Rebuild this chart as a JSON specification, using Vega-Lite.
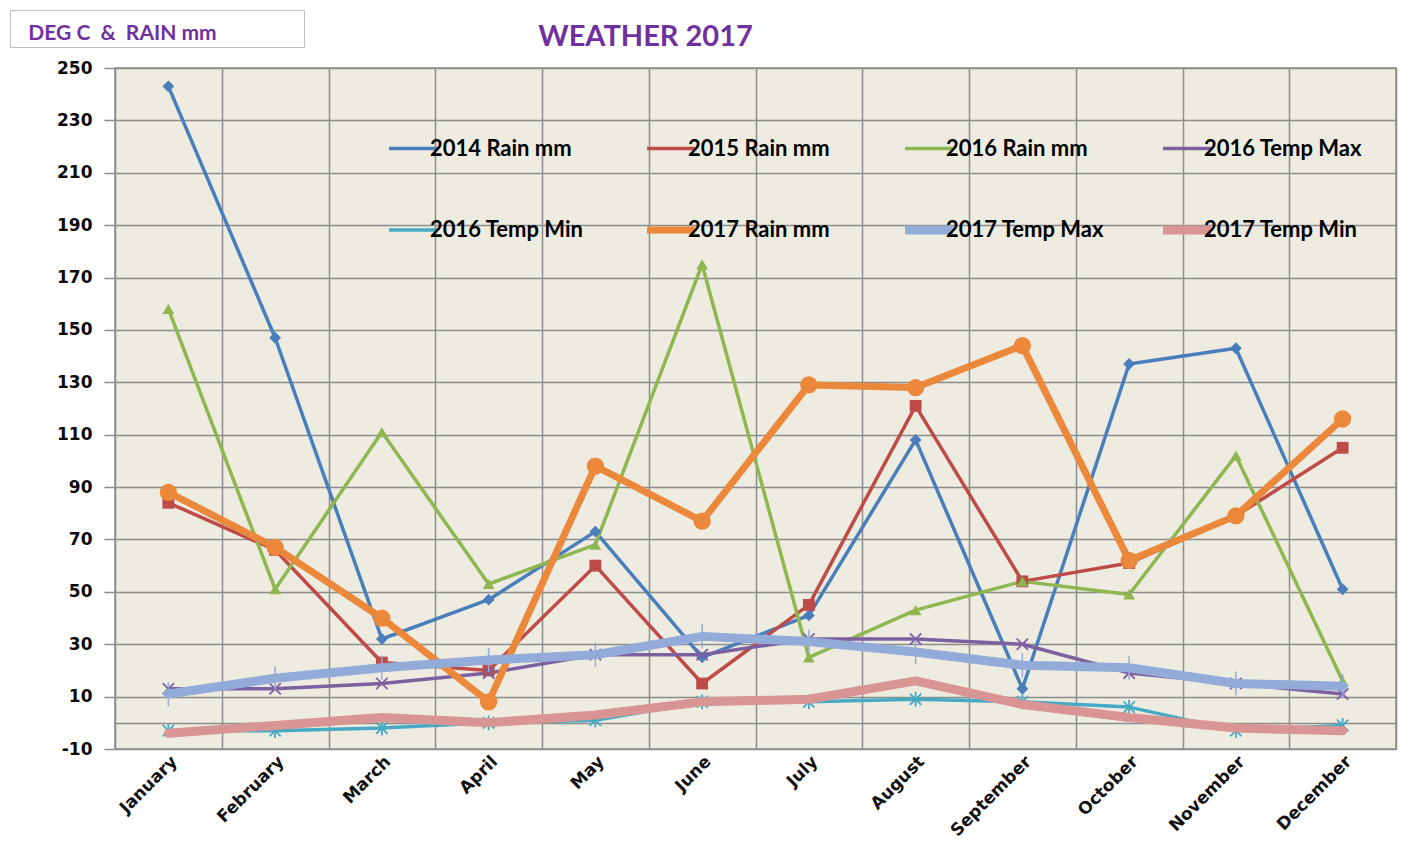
{
"$schema": "https://vega.github.io/schema/vega-lite/v6.json",
"width": 1281, "height": 681,
"autosize": {"type": "none"},
"padding": {"left": 115, "top": 68, "right": 20, "bottom": 118},
"background": "white",
"title": {"text": "WEATHER 2017", "frame": "group", "color": "#7030A0", "fontSize": 29, "font": "Lato, sans-serif", "fontWeight": "bold", "anchor": "middle", "dx": -110, "offset": 0, "dy": 42},
"data": {"values": [
{"month":"January","series":"2014 Rain mm","value":243},{"month":"February","series":"2014 Rain mm","value":147},{"month":"March","series":"2014 Rain mm","value":32},{"month":"April","series":"2014 Rain mm","value":47},{"month":"May","series":"2014 Rain mm","value":73},{"month":"June","series":"2014 Rain mm","value":25},{"month":"July","series":"2014 Rain mm","value":41},{"month":"August","series":"2014 Rain mm","value":108},{"month":"September","series":"2014 Rain mm","value":13},{"month":"October","series":"2014 Rain mm","value":137},{"month":"November","series":"2014 Rain mm","value":143},{"month":"December","series":"2014 Rain mm","value":51},
{"month":"January","series":"2015 Rain mm","value":84},{"month":"February","series":"2015 Rain mm","value":66},{"month":"March","series":"2015 Rain mm","value":23},{"month":"April","series":"2015 Rain mm","value":20},{"month":"May","series":"2015 Rain mm","value":60},{"month":"June","series":"2015 Rain mm","value":15},{"month":"July","series":"2015 Rain mm","value":45},{"month":"August","series":"2015 Rain mm","value":121},{"month":"September","series":"2015 Rain mm","value":54},{"month":"October","series":"2015 Rain mm","value":61},{"month":"November","series":"2015 Rain mm","value":79},{"month":"December","series":"2015 Rain mm","value":105},
{"month":"January","series":"2016 Rain mm","value":158},{"month":"February","series":"2016 Rain mm","value":51},{"month":"March","series":"2016 Rain mm","value":111},{"month":"April","series":"2016 Rain mm","value":53},{"month":"May","series":"2016 Rain mm","value":68},{"month":"June","series":"2016 Rain mm","value":175},{"month":"July","series":"2016 Rain mm","value":25},{"month":"August","series":"2016 Rain mm","value":43},{"month":"September","series":"2016 Rain mm","value":54},{"month":"October","series":"2016 Rain mm","value":49},{"month":"November","series":"2016 Rain mm","value":102},{"month":"December","series":"2016 Rain mm","value":16},
{"month":"January","series":"2016 Temp Max","value":13},{"month":"February","series":"2016 Temp Max","value":13},{"month":"March","series":"2016 Temp Max","value":15},{"month":"April","series":"2016 Temp Max","value":19},{"month":"May","series":"2016 Temp Max","value":26},{"month":"June","series":"2016 Temp Max","value":26},{"month":"July","series":"2016 Temp Max","value":32},{"month":"August","series":"2016 Temp Max","value":32},{"month":"September","series":"2016 Temp Max","value":30},{"month":"October","series":"2016 Temp Max","value":19},{"month":"November","series":"2016 Temp Max","value":15},{"month":"December","series":"2016 Temp Max","value":11},
{"month":"January","series":"2016 Temp Min","value":-3},{"month":"February","series":"2016 Temp Min","value":-3},{"month":"March","series":"2016 Temp Min","value":-2},{"month":"April","series":"2016 Temp Min","value":0},{"month":"May","series":"2016 Temp Min","value":1},{"month":"June","series":"2016 Temp Min","value":8},{"month":"July","series":"2016 Temp Min","value":8},{"month":"August","series":"2016 Temp Min","value":9},{"month":"September","series":"2016 Temp Min","value":8},{"month":"October","series":"2016 Temp Min","value":6},{"month":"November","series":"2016 Temp Min","value":-3},{"month":"December","series":"2016 Temp Min","value":-1},
{"month":"January","series":"2017 Rain mm","value":88},{"month":"February","series":"2017 Rain mm","value":67},{"month":"March","series":"2017 Rain mm","value":40},{"month":"April","series":"2017 Rain mm","value":8},{"month":"May","series":"2017 Rain mm","value":98},{"month":"June","series":"2017 Rain mm","value":77},{"month":"July","series":"2017 Rain mm","value":129},{"month":"August","series":"2017 Rain mm","value":128},{"month":"September","series":"2017 Rain mm","value":144},{"month":"October","series":"2017 Rain mm","value":62},{"month":"November","series":"2017 Rain mm","value":79},{"month":"December","series":"2017 Rain mm","value":116},
{"month":"January","series":"2017 Temp Max","value":11},{"month":"February","series":"2017 Temp Max","value":17},{"month":"March","series":"2017 Temp Max","value":21},{"month":"April","series":"2017 Temp Max","value":24},{"month":"May","series":"2017 Temp Max","value":26},{"month":"June","series":"2017 Temp Max","value":33},{"month":"July","series":"2017 Temp Max","value":31},{"month":"August","series":"2017 Temp Max","value":27},{"month":"September","series":"2017 Temp Max","value":22},{"month":"October","series":"2017 Temp Max","value":21},{"month":"November","series":"2017 Temp Max","value":15},{"month":"December","series":"2017 Temp Max","value":14},
{"month":"January","series":"2017 Temp Min","value":-4},{"month":"February","series":"2017 Temp Min","value":-1},{"month":"March","series":"2017 Temp Min","value":2},{"month":"April","series":"2017 Temp Min","value":0},{"month":"May","series":"2017 Temp Min","value":3},{"month":"June","series":"2017 Temp Min","value":8},{"month":"July","series":"2017 Temp Min","value":9},{"month":"August","series":"2017 Temp Min","value":16},{"month":"September","series":"2017 Temp Min","value":7},{"month":"October","series":"2017 Temp Min","value":2},{"month":"November","series":"2017 Temp Min","value":-2},{"month":"December","series":"2017 Temp Min","value":-3}
]},
"encoding": {
  "x": {"field": "month", "type": "nominal",
        "sort": ["January","February","March","April","May","June","July","August","September","October","November","December"],
        "scale": {"type": "band", "paddingInner": 0, "paddingOuter": 0},
        "axis": {"title": null, "tickBand": "extent", "grid": true, "gridColor": "#8C8C8C", "gridWidth": 1.5, "ticks": false, "domain": false,
                 "labelAngle": -45, "labelFont": "DejaVu Sans", "labelFontWeight": "bold", "labelFontSize": 17, "labelColor": "#111111", "labelPadding": 4}},
  "y": {"field": "value", "type": "quantitative",
        "scale": {"domain": [-10, 250], "nice": false, "zero": false},
        "axis": {"title": null,
                 "values": [-10,0,10,30,50,70,90,110,130,150,170,190,210,230,250],
                 "labelExpr": "datum.value == 0 ? '' : '' + datum.value",
                 "tickColor": {"condition": {"test": "datum.value == 0", "value": "transparent"}, "value": "#8C8C8C"},
                 "tickSize": 11, "tickWidth": 1.5, "gridColor": "#8C8C8C", "gridWidth": 1.5, "domain": false,
                 "labelFont": "DejaVu Sans", "labelFontWeight": "bold", "labelFontSize": 17, "labelPadding": 12, "labelColor": "#0a0a0a"}},
  "color": {"field": "series", "type": "nominal",
       "scale": {"domain": ["2014 Rain mm","2015 Rain mm","2016 Rain mm","2016 Temp Max","2016 Temp Min","2017 Rain mm","2017 Temp Max","2017 Temp Min"],
                 "range": ["#4A7EBB","#BE4B48","#8FB650","#7D60A0","#46AAC5","#EB883C","#93ABD8","#D99594"]},
       "legend": {"orient": "none", "legendX": 287, "legendY": 66, "direction": "horizontal", "columns": 4, "title": null,
                  "symbolType": "stroke", "symbolSize": 2300, "gridAlign": "all", "columnPadding": 40, "rowPadding": 49,
                  "labelFont": "Lato, sans-serif", "labelFontSize": 22, "labelFontWeight": "bold", "labelColor": "#000000", "labelOffset": 6,
                  "encode": {"symbols": {"update": {"stroke": {"scale": "color", "field": "value"}, "fill": {"value": "transparent"}, "opacity": {"value": 1},
                     "shape": {"value": "stroke"}, "size": {"value": 2300},
                     "strokeWidth": {"signal": "datum.value == '2017 Rain mm' ? 7 : (datum.value == '2017 Temp Max' || datum.value == '2017 Temp Min') ? 9 : 3.5"}}}}}}
},
"layer": [
  {"transform": [{"filter": "indexof(['2014 Rain mm','2015 Rain mm','2016 Rain mm','2016 Temp Max','2016 Temp Min'], datum.series) >= 0"}],
   "mark": {"type": "line", "strokeWidth": 3.5, "strokeJoin": "round", "strokeCap": "round"}},
  {"transform": [{"filter": "indexof(['2014 Rain mm','2015 Rain mm','2016 Rain mm'], datum.series) >= 0"}],
   "mark": {"type": "point", "filled": true, "opacity": 1, "size": 140},
   "encoding": {"shape": {"field": "series", "type": "nominal", "legend": null,
       "scale": {"domain": ["2014 Rain mm","2015 Rain mm","2016 Rain mm","2016 Temp Max","2016 Temp Min"],
                 "range": ["diamond","square","triangle-up","M-1,-1L1,1M-1,1L1,-1","M-1,-1L1,1M-1,1L1,-1M0,-1.3L0,1.3"]}}}},
  {"transform": [{"filter": "indexof(['2016 Temp Max','2016 Temp Min'], datum.series) >= 0"}],
   "mark": {"type": "point", "filled": false, "opacity": 1, "size": 130, "strokeWidth": 1.8},
   "encoding": {"shape": {"field": "series", "type": "nominal", "legend": null,
       "scale": {"domain": ["2014 Rain mm","2015 Rain mm","2016 Rain mm","2016 Temp Max","2016 Temp Min"],
                 "range": ["diamond","square","triangle-up","M-1,-1L1,1M-1,1L1,-1","M-1,-1L1,1M-1,1L1,-1M0,-1.3L0,1.3"]}}}},
  {"transform": [{"filter": "datum.series == '2017 Rain mm'"}],
   "mark": {"type": "line", "strokeWidth": 7, "strokeJoin": "round", "strokeCap": "round"}},
  {"transform": [{"filter": "datum.series == '2017 Rain mm'"}],
   "mark": {"type": "point", "filled": true, "opacity": 1, "size": 300, "shape": "circle"},
   "encoding": {"opacity": {"datum": "DEG C & RAIN mm", "type": "nominal", "scale": {"range": [1, 1]},
       "legend": {"orient": "none", "legendX": -105, "legendY": -58, "title": "\u200b\u00a0\u00a0\u00a0DEG C \u00a0&\u00a0 RAIN mm", "titleOrient": "bottom", "titleLimit": 500,
                  "titleFont": "Lato, sans-serif", "titleFontSize": 21, "titleFontWeight": "bold", "titleColor": "#7030A0", "titlePadding": 0,
                  "strokeColor": "#BFBFBF", "fillColor": "white", "padding": 3,
                  "labelExpr": "''", "labelFontSize": 10, "labelOffset": 278, "symbolSize": 0, "symbolOpacity": 0, "symbolStrokeWidth": 0}}}},
  {"transform": [{"filter": "indexof(['2017 Temp Max','2017 Temp Min'], datum.series) >= 0"}],
   "mark": {"type": "line", "strokeWidth": 9, "strokeJoin": "round", "strokeCap": "round"}},
  {"transform": [{"filter": "datum.series == '2017 Temp Max'"}],
   "mark": {"type": "point", "filled": false, "opacity": 1, "size": 576, "strokeWidth": 1.5, "shape": "M0,-1L0,1M-0.5,0L0.5,0"}}
],
"config": {"view": {"fill": "#EEECE1", "stroke": "#8C8C8C", "strokeWidth": 1.5}}
}
